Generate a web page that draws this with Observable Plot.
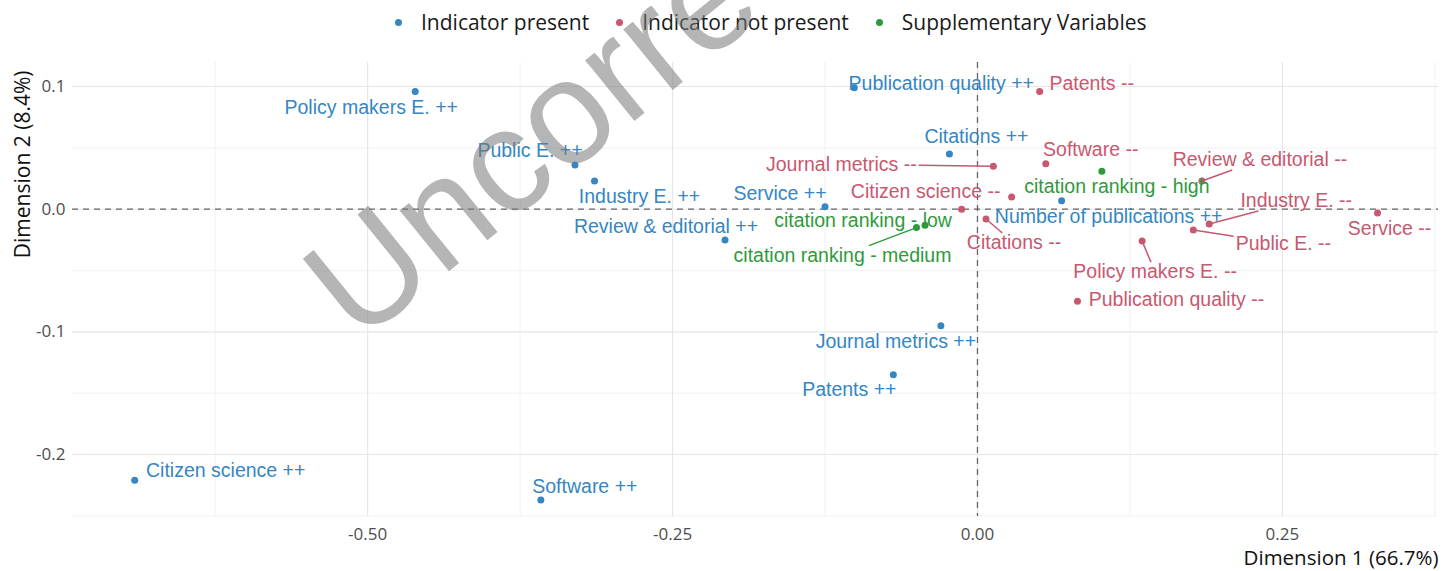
<!DOCTYPE html>
<html><head><meta charset="utf-8">
<script src="https://cdn.jsdelivr.net/npm/d3@7"></script>
<script src="https://cdn.jsdelivr.net/npm/@observablehq/plot@0.6"></script>
<style>
body{margin:0;background:#fff;}
#wrap{position:relative;width:1453px;height:571px;overflow:hidden;background:#fff;}
#legend{height:44px;display:flex;align-items:center;padding-left:395px;font-family:"Open Sans";font-size:21px;color:#1a1a1a;}
.item{display:flex;align-items:center;margin-right:27px;}
.dot{width:7px;height:7px;border-radius:50%;margin-right:19px;}
#wm{position:absolute;left:0;top:0;pointer-events:none;}
</style></head><body>
<div id="wrap"><div id="legend"></div><div id="chart"></div>
<svg id="wm" width="1453" height="571"><text x="358" y="345" transform="rotate(-39 358 345)" font-family="Liberation Sans" font-size="148" fill="rgba(120,120,120,0.55)">Uncorrected</text></svg>
</div>
<script>
// ---- data ----
const categories = [
  "Policy makers E. ++","Public E. ++","Industry E. ++","Review & editorial ++","Service ++",
  "Publication quality ++","Citations ++","Number of publications ++","Journal metrics ++","Patents ++",
  "Citizen science ++","Software ++",
  "Patents --","Software --","Journal metrics --","Citizen science --","Citations --",
  "Review & editorial --","Industry E. --","Public E. --","Service --","Policy makers E. --",
  "Publication quality --","Number of publications --",
  "citation ranking - high","citation ranking - low","citation ranking - medium"
];
const groups = [
  ...Array(12).fill("Indicator present"),
  ...Array(12).fill("Indicator not present"),
  ...Array(3).fill("Supplementary Variables")
];
const dim1 = [
  -0.461,-0.330,-0.314,-0.207,-0.125,
  -0.101,-0.023,0.069,-0.030,-0.069,
  -0.691,-0.358,
  0.051,0.056,0.013,0.028,0.007,
  0.184,0.190,0.177,0.328,0.135,
  0.082,-0.013,
  0.102,-0.043,-0.050
];
const dim2 = [
  0.096,0.036,0.023,-0.025,0.002,
  0.099,0.045,0.007,-0.095,-0.135,
  -0.221,-0.237,
  0.096,0.037,0.035,0.010,-0.008,
  0.023,-0.012,-0.017,-0.003,-0.026,
  -0.075,0.000,
  0.031,-0.013,-0.015
];
const legendNames = ["Indicator present","Indicator not present","Supplementary Variables"];
const legendColors = ["#3586c3","#c8586f","#2f9a3c"];
const xMajor = [-0.5,-0.25,0,0.25];
const xMinor = [-0.625,-0.375,-0.125,0.125,0.375];
const yMajor = [-0.2,-0.1,0,0.1];
const yMinor = [-0.25,-0.15,-0.05,0.05];

// ---- label layout (pixel offsets of repelled labels) ----
const labelDx = [-44,-45,45,-59,-45, 87,27,47,-45,-44, 91,44,
                 52,45,-152,-86,28, 58,87,90,12,13, 99,0, 15,-62,-74];
const labelDy = [16,-14,16,-13,-13, -4,-17,16,16,15, -10,-13,
                 -8,-14,-2,-5,24, -21,-23,14,16,31, -1,0, 16,-4,28];
const connector = [0,0,0,0,0, 0,0,0,0,0, 0,0,
                   0,0,1,0,1, 1,1,1,0,1, 0,0, 0,0,1];
const hideLabel = categories.map(c => c === "Number of publications --");

// ---- build ----
const W=1453,H=527,ML=72,MR=15,MT=18,MB=55;
const xDomain=[-0.742,0.378], yDomain=[-0.2505,0.1196];
const kx=(W-ML-MR)/(xDomain[1]-xDomain[0]);
const ky=(H-MT-MB)/(yDomain[1]-yDomain[0]);
const LF = 19.5;
const ctx=document.createElement("canvas").getContext("2d");
ctx.font = LF + "px 'Liberation Sans'";
const rows = categories.map((c,i)=>{
  const dx=labelDx[i], dy=labelDy[i];
  const hw = ctx.measureText(c).width/2 + 2, hh = 10;
  let t = 0;
  if (connector[i]) {
    const tx = Math.abs(dx)>hw ? (Math.abs(dx)-hw)/Math.abs(dx) : 0;
    const ty = Math.abs(dy)>hh ? (Math.abs(dy)-hh)/Math.abs(dy) : 0;
    t = Math.max(tx,ty);
  }
  return {label:c, group:groups[i], x:dim1[i], y:dim2[i],
    lx: dim1[i]+dx/kx, ly: dim2[i]-dy/ky,
    ex: dim1[i]+t*dx/kx, ey: dim2[i]-t*dy/ky,
    conn: !!connector[i], show: !hideLabel[i]};
});

// legend
const lg = document.getElementById("legend");
legendNames.forEach((n,i)=>{
  const it=document.createElement("div"); it.className="item";
  const d=document.createElement("span"); d.className="dot"; d.style.background=legendColors[i];
  const s=document.createElement("span"); s.textContent=n;
  it.appendChild(d); it.appendChild(s); lg.appendChild(it);
});

const chart = Plot.plot({
  width:W, height:H, marginLeft:ML, marginRight:MR, marginTop:MT, marginBottom:MB,
  style:{fontFamily:"Open Sans", color:"#4d4d4d", background:"transparent", overflow:"visible"},
  x:{domain:xDomain},
  y:{domain:yDomain},
  color:{domain:legendNames, range:legendColors},
  marks:[
    Plot.ruleX(xMinor,{stroke:"#ededed",strokeWidth:0.7}),
    Plot.ruleY(yMinor,{stroke:"#ededed",strokeWidth:0.7}),
    Plot.ruleX(xMajor,{stroke:"#e6e6e6",strokeWidth:1.1}),
    Plot.ruleY(yMajor,{stroke:"#e6e6e6",strokeWidth:1.1}),
    Plot.ruleX([0],{stroke:"#666",strokeDasharray:"6,5",strokeWidth:1.3}),
    Plot.ruleY([0],{stroke:"#666",strokeDasharray:"6,5",strokeWidth:1.3}),
    Plot.link(rows.filter(d=>d.conn),{x1:"x",y1:"y",x2:"ex",y2:"ey",stroke:"group",strokeWidth:1.5}),
    Plot.dot(rows,{x:"x",y:"y",fill:"group",r:3.5}),
    Plot.text(rows.filter(d=>d.show),{x:"lx",y:"ly",text:"label",fill:"group",fontSize:LF,fontFamily:"Liberation Sans"}),
    Plot.axisX({ticks:xMajor, tickSize:0, tickPadding:11, fontSize:17, label:null, tickFormat:d=>d.toFixed(2)}),
    Plot.axisY({ticks:yMajor, tickSize:0, tickPadding:7, fontSize:17, label:null, tickFormat:d=>d.toFixed(1)}),
    Plot.text(["Dimension 1 (66.7%)"],{frameAnchor:"bottom-right",textAnchor:"end",dy:48,fontSize:20.5,fill:"#111"}),
    Plot.text(["Dimension 2 (8.4%)"],{frameAnchor:"top-left",rotate:-90,textAnchor:"end",dx:-57,dy:8,fontSize:21,fill:"#111"})
  ]
});
document.getElementById("chart").appendChild(chart);
</script>
</body></html>
